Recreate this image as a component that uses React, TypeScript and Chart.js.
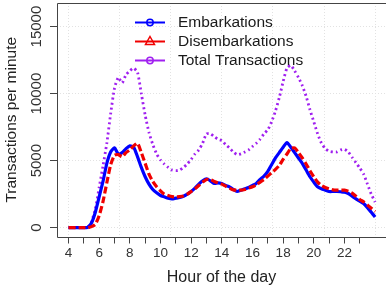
import React, { useEffect, useRef } from "react";
import { Chart, registerables } from "chart.js";

Chart.register(...registerables);

const FONT = '"Liberation Sans", Arial, Helvetica, sans-serif';

const hours = [
  4, 4.25, 4.5, 4.75, 5, 5.25, 5.5, 5.75, 6, 6.25, 6.5, 6.75, 7, 7.25, 7.5, 7.75,
  8, 8.25, 8.5, 8.75, 9, 9.25, 9.5, 9.75, 10, 10.25, 10.5, 10.75, 11, 11.25, 11.5, 11.75,
  12, 12.25, 12.5, 12.75, 13, 13.25, 13.5, 13.75, 14, 14.25, 14.5, 14.75, 15, 15.25, 15.5, 15.75,
  16, 16.25, 16.5, 16.75, 17, 17.25, 17.5, 17.75, 18, 18.25, 18.5, 18.75, 19, 19.25, 19.5, 19.75,
  20, 20.25, 20.5, 20.75, 21, 21.25, 21.5, 21.75, 22, 22.25, 22.5, 22.75, 23, 23.25, 23.5, 23.75, 24,
];

const embarkations = [
  0, 0, 0, 0, 0, 30, 350, 1150, 2300, 3450, 4800, 5650, 5950, 5500, 5600, 5900,
  6100, 6000, 5300, 4500, 3800, 3250, 2850, 2600, 2400, 2300, 2200, 2150, 2200, 2250, 2350, 2500,
  2700, 2950, 3250, 3500, 3650, 3500, 3300, 3350, 3300, 3150, 3050, 2850, 2700, 2800, 2900, 3000,
  3150, 3300, 3600, 3850, 4200, 4700, 5200, 5600, 6000, 6350, 6000, 5600, 5200, 4800, 4300, 3800,
  3400, 3050, 2900, 2800, 2700, 2700, 2700, 2680, 2650, 2550, 2350, 2150, 1980, 1800, 1500, 1150, 800,
];

const disembarkations = [
  0, 0, 0, 0, 0, 0, 80, 250, 900, 1950, 3350, 4700, 5400, 5450, 5300, 5600,
  5800, 6100, 6300, 5600, 4800, 4000, 3450, 3050, 2750, 2500, 2400, 2320, 2300, 2320, 2360, 2500,
  2700, 2900, 3150, 3400, 3600, 3600, 3450, 3350, 3250, 3100, 2950, 2820, 2800, 2800, 2850, 2950,
  3050, 3200, 3400, 3600, 3850, 4100, 4350, 4650, 5100, 5500, 5900, 5950, 5600, 5200, 4750, 4250,
  3800, 3400, 3150, 3000, 2900, 2820, 2800, 2800, 2800, 2720, 2580, 2350, 2100, 1930, 1700, 1450, 1200,
];

const totalTransactions = [
  0, 0, 0, 0, 0, 30, 450, 1400, 3000, 4600, 6300, 8500, 10400, 11200, 10800, 11400,
  11700, 11900, 11600, 10000, 8400, 7100, 6200, 5500, 5050, 4750, 4500, 4300, 4250, 4300, 4500, 4750,
  5100, 5500, 5800, 6300, 7000, 7000, 6800, 6600, 6500, 6200, 5950, 5650, 5450, 5500, 5650, 5800,
  6050, 6300, 6600, 7000, 7300, 7900, 8700, 9700, 10900, 11900, 12100, 11700, 11200, 10600, 9800, 8800,
  7900, 7000, 6300, 5900, 5700, 5650, 5650, 5800, 5850, 5650, 5250, 4850, 4450, 4000, 3250, 2500, 1900,
];

const seriesNames = ["Embarkations", "Disembarkations", "Total Transactions"];
const xTickHours = [4, 5, 6, 7, 8, 9, 10, 11, 12, 13, 14, 15, 16, 17, 18, 19, 20, 21, 22, 23];
const xLabelHours = [4, 6, 8, 10, 12, 14, 16, 18, 20, 22];
const xGridHours = [4, 7.3333, 10.6667, 14, 17.3333, 20.6667, 24];
const yTicks = [0, 5000, 10000, 15000];

const X_MIN = 3.25;
const X_MAX = 24.71;
const Y_MIN = -656;
const Y_MAX = 16756;

const boxPlugin = {
  id: "rbox",
  afterDatasetsDraw(chart: any) {
    const { ctx, chartArea } = chart;
    ctx.save();
    ctx.strokeStyle = "#444";
    ctx.lineWidth = 1;
    ctx.setLineDash([]);
    ctx.beginPath();
    const l = Math.round(chartArea.left) + 0.5;
    const t = Math.round(chartArea.top) + 0.5;
    const b = Math.round(chartArea.bottom) + 0.5;
    ctx.moveTo(chartArea.right + 2, t);
    ctx.lineTo(l, t);
    ctx.lineTo(l, b);
    ctx.lineTo(chartArea.right + 2, b);
    ctx.stroke();
    ctx.restore();
  },
};

const legendPlugin = {
  id: "rlegend",
  afterDraw(chart: any) {
    const { ctx } = chart;
    const ds = chart.data.datasets;
    ctx.save();
    ds.forEach((d: any, i: number) => {
      const y = 22.5 + i * 19;
      ctx.strokeStyle = d.borderColor;
      ctx.lineWidth = 2;
      ctx.setLineDash([]);
      ctx.beginPath();
      ctx.moveTo(135, y);
      ctx.lineTo(165, y);
      ctx.stroke();
      ctx.lineWidth = 1.5;
      ctx.beginPath();
      if (d.legendMarker === "triangle") {
        ctx.moveTo(150, y - 5);
        ctx.lineTo(154.5, y + 3);
        ctx.lineTo(145.5, y + 3);
        ctx.closePath();
      } else {
        ctx.arc(150, y, 3.2, 0, Math.PI * 2);
      }
      ctx.stroke();
      ctx.fillStyle = "#1a1a1a";
      ctx.font = `15.5px ${FONT}`;
      ctx.textBaseline = "middle";
      ctx.textAlign = "left";
      ctx.fillText(d.label, 178, y);
    });
    ctx.restore();
  },
};

export default function App() {
  const ref = useRef<HTMLCanvasElement | null>(null);

  useEffect(() => {
    if (!ref.current) return;
    const toPts = (vals: number[]) => hours.map((h, i) => ({ x: h, y: vals[i] }));
    const chart = new Chart(ref.current, {
      type: "line",
      data: {
        datasets: [
          {
            label: seriesNames[0],
            data: toPts(embarkations),
            borderColor: "#0000ff",
            borderWidth: 3.2,
            pointRadius: 0,
            tension: 0.2,
            fill: false,
            order: 1,
            xAxisID: "x",
            yAxisID: "y",
            legendMarker: "circle",
          } as any,
          {
            label: seriesNames[1],
            data: toPts(disembarkations),
            borderColor: "#f00000",
            borderWidth: 3.2,
            borderDash: [7, 3],
            pointRadius: 0,
            tension: 0.2,
            fill: false,
            order: 0,
            xAxisID: "x",
            yAxisID: "y",
            legendMarker: "triangle",
          } as any,
          {
            label: seriesNames[2],
            data: toPts(totalTransactions),
            borderColor: "#a020f0",
            borderWidth: 2.8,
            borderDash: [2, 3],
            pointRadius: 0,
            tension: 0.2,
            fill: false,
            order: 2,
            xAxisID: "x",
            yAxisID: "y",
            legendMarker: "circle",
          } as any,
        ],
      },
      options: {
        responsive: false,
        maintainAspectRatio: false,
        animation: false,
        layout: { padding: { top: 3, left: 0, right: 0, bottom: 0 } },
        plugins: { legend: { display: false }, tooltip: { enabled: false } },
        scales: {
          x: {
            type: "linear",
            position: "bottom",
            min: X_MIN,
            max: X_MAX,
            afterBuildTicks: (s: any) => {
              s.ticks = xTickHours.map((v) => ({ value: v }));
            },
            afterFit: (s: any) => {
              s.height = 57.5;
            },
            ticks: {
              autoSkip: false,
              maxRotation: 0,
              minRotation: 0,
              padding: 2,
              color: "#333",
              font: { family: FONT, size: 13.5 },
              callback: (v: any) => (xLabelHours.includes(Number(v)) ? String(v) : ""),
            },
            grid: {
              drawOnChartArea: false,
              drawTicks: true,
              tickLength: 7,
              tickColor: "#444",
              tickWidth: 1,
            },
            border: { display: false },
            title: {
              display: true,
              text: "Hour of the day",
              color: "#222",
              font: { family: FONT, size: 16 },
              padding: { top: 0, bottom: 7 },
            },
          },
          xg: {
            type: "linear",
            position: "bottom",
            min: X_MIN,
            max: X_MAX,
            afterBuildTicks: (s: any) => {
              s.ticks = xGridHours.map((v) => ({ value: v }));
            },
            afterFit: (s: any) => {
              s.height = 0;
            },
            ticks: { display: false },
            grid: { drawTicks: false, color: "#e2e2e2", lineWidth: 1 },
            border: { display: false, dash: [1, 2] },
          },
          y: {
            type: "linear",
            position: "left",
            min: Y_MIN,
            max: Y_MAX,
            afterBuildTicks: (s: any) => {
              s.ticks = yTicks.map((v) => ({ value: v }));
            },
            afterFit: (s: any) => {
              s.width = 57;
            },
            ticks: {
              minRotation: 90,
              maxRotation: 90,
              crossAlign: "center",
              padding: -8,
              color: "#333",
              font: { family: FONT, size: 15 },
              callback: (v: any) => String(v),
            },
            grid: {
              color: "#e2e2e2",
              lineWidth: 1,
              tickLength: 7,
              tickColor: "#444",
              tickWidth: 1,
              tickBorderDash: [],
            },
            border: { display: false, dash: [1, 2] },
            title: {
              display: true,
              text: "Transactions per minute",
              color: "#222",
              font: { family: FONT, size: 15.5 },
              padding: { top: 2.5, bottom: 0 },
            },
          },
        },
      } as any,
      plugins: [boxPlugin, legendPlugin],
    });
    return () => chart.destroy();
  }, []);

  return (
    <div style={{ position: "fixed", left: 0, top: 0, width: 386, height: 294, background: "#fff" }}>
      <canvas ref={ref} width={386} height={294} style={{ display: "block" }} />
    </div>
  );
}
